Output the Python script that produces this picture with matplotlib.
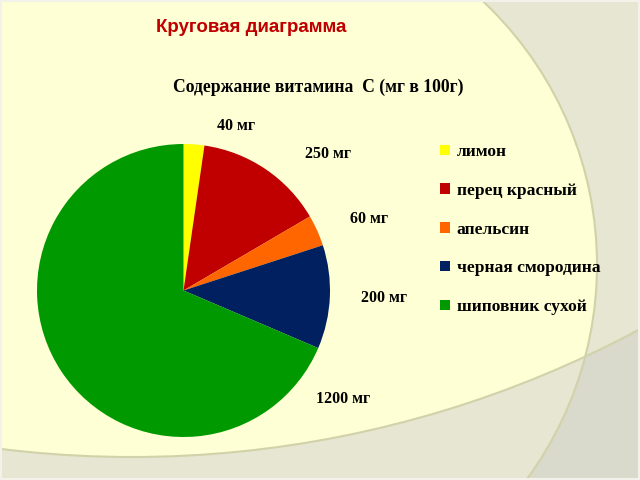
import matplotlib
matplotlib.use("Agg")
import matplotlib.pyplot as plt
from matplotlib.patches import Circle, Rectangle

# ---- data ----
fruits = ["лимон", "перец красный", "апельсин", "черная смородина", "шиповник сухой"]
vitamin_c = [40, 250, 60, 200, 1200]
value_labels = ["40 мг", "250 мг", "60 мг", "200 мг", "1200 мг"]
colors = ["#FFFF00", "#C00000", "#FF6600", "#002060", "#009900"]

slide_title = "Круговая диаграмма"
chart_title = "Содержание витамина  С (мг в 100г)"

# label anchor positions (pixels in slide coordinates)
label_pos = [(236, 126), (328, 154), (369, 219), (384, 298), (343, 399)]

W, H = 640, 480
fig = plt.figure(figsize=(6.4, 4.8), dpi=100)

# ---- slide background ----
bg = fig.add_axes([0, 0, 1, 1], zorder=0)
bg.set_xlim(0, W)
bg.set_ylim(H, 0)
bg.axis("off")
dark = "#D9D9CC"
mid = "#E6E6D2"
yellow = "#FFFFD5"
edge = "#D2D2AA"
bg.add_patch(Rectangle((0, 0), W, H, facecolor=dark, edgecolor="none"))
bg.add_patch(Circle((235, 265), 362, facecolor=mid, edgecolor="none"))
bg.add_patch(Circle((132, -616), 1073, facecolor=mid, edgecolor="none"))
inner = Circle((132, -616), 1073, facecolor=yellow, edgecolor="none")
bg.add_patch(inner)
inner.set_clip_path(Circle((235, 265), 362, transform=bg.transData))
bg.add_patch(Circle((235, 265), 362, facecolor="none", edgecolor=edge, lw=1.5))
bg.add_patch(Circle((132, -616), 1073, facecolor="none", edgecolor=edge, lw=1.5))
bg.add_patch(Rectangle((0, 0), W, H, facecolor="none", edgecolor="#F2F2EA", lw=3))

# ---- titles ----
bg.text(251, 28, slide_title, color="#C00000", fontsize=13.5, fontweight="bold",
        family=["Liberation Sans", "DejaVu Sans"], ha="center", va="center")
bg.text(318, 87, chart_title, color="black", fontsize=12.7, fontweight="bold",
        family=["Liberation Serif", "DejaVu Serif"], ha="center", va="center")

# ---- pie ----
cx, cy, R = 183.5, 290.5, 146.5
ax = fig.add_axes([(cx - R) / W, (H - cy - R) / H, 2 * R / W, 2 * R / H], zorder=2)
ax.patch.set_alpha(0)
wedges, _ = ax.pie(vitamin_c, colors=colors, startangle=90, counterclock=False,
                   radius=1.0, wedgeprops=dict(linewidth=0))
ax.set_xlim(-1, 1)
ax.set_ylim(-1, 1)
ax.set_aspect("auto")
ax.axis("off")

for (x, y), t in zip(label_pos, value_labels):
    bg.text(x, y, t, fontsize=11.5, fontweight="bold",
            family=["Liberation Serif", "DejaVu Serif"], ha="center", va="center")

leg = fig.legend(wedges, fruits, loc="upper left",
                 bbox_to_anchor=(440 / W, 1 - 144 / H),
                 bbox_transform=fig.transFigure, frameon=False,
                 prop=dict(family=["Liberation Serif", "DejaVu Serif"], weight="bold", size=12.6),
                 handlelength=0.55, handleheight=0.55, handletextpad=0.4,
                 labelspacing=1.30, borderpad=0, borderaxespad=0)

fig.savefig("out.png", dpi=100)
